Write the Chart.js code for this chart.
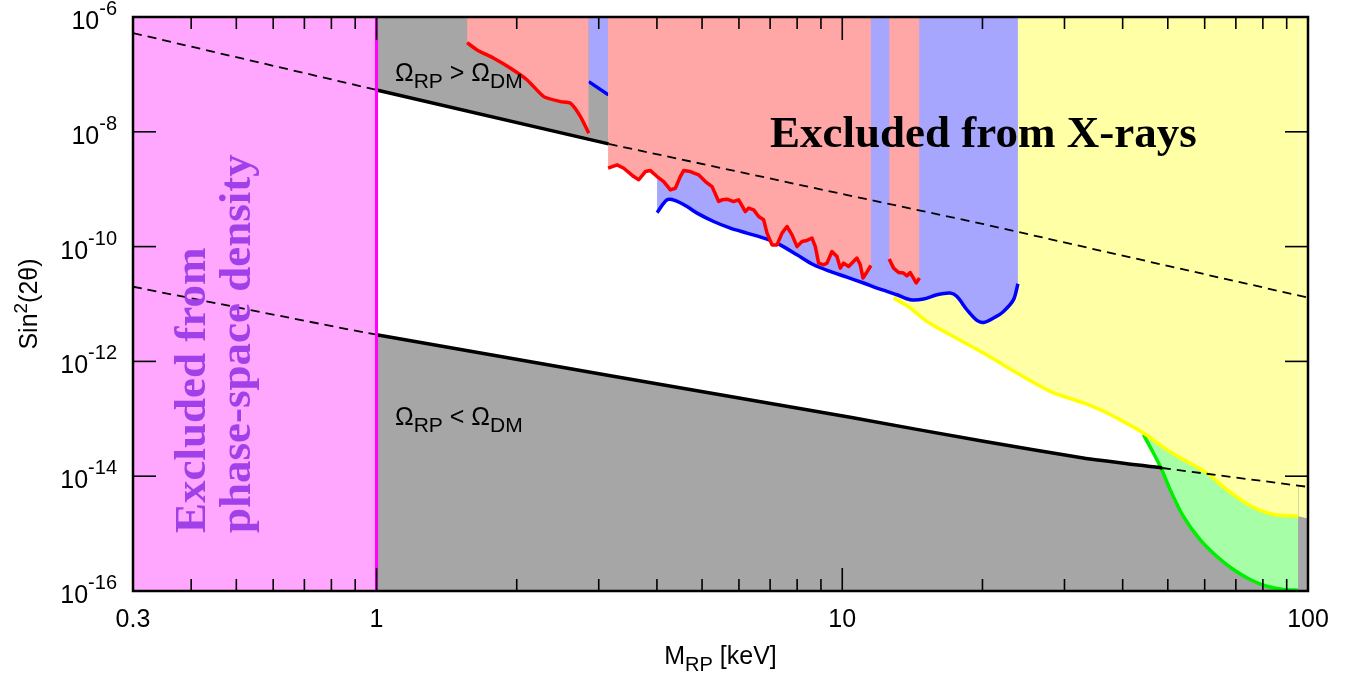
<!DOCTYPE html>
<html>
<head>
<meta charset="utf-8">
<script src="https://cdn.jsdelivr.net/npm/chart.js@4.4.1/dist/chart.umd.min.js"></script>
<style>
  body { margin: 0; background: #fff; }
  canvas { display: block; }
</style>
</head>
<body>
<canvas id="chart" width="1367" height="677"></canvas>
<script>
// axes
const xMin = 0.3, xMax = 100;
const yMin = 1e-16, yMax = 1e-6;
const xTickLabels = [0.3, 1, 10, 100];
const xMajorTicks = [1, 10];
const xMinorTicks = [0.4, 0.5, 0.6, 0.7, 0.8, 0.9, 2, 3, 4, 5, 6, 7, 8, 9, 20, 30, 40, 50, 60, 70, 80, 90];
const yTickExps = [-6, -8, -10, -12, -14, -16];

// phase-space density bound (M < 1 keV excluded)
const phaseX = [0.3, 1];
const phaseY = [1e-6, 1e-6];
const phaseEdgeX = [1, 1];
const phaseEdgeY = [1e-6, 1e-16];

// Omega_RP = Omega_DM lines (upper and lower)
const upperX = [0.3, 1, 3.15, 10.2, 20, 100];
const upperY = [5.26e-7, 5.36e-8, 6.16e-9, 7.97e-10, 2.49e-10, 1.29e-11];
const upperSolid = [1, 3.15];
const lowerX = [0.3, 1, 10.4, 20.1, 32.9, 48.6, 100];
const lowerY = [2.0e-11, 2.92e-12, 1.06e-13, 4.05e-14, 2.08e-14, 1.39e-14, 6.52e-15];
const lowerSolid = [1, 48.6];

// X-ray bounds
const red1X = [1.565, 1.644, 1.785, 1.94, 2.106, 2.286, 2.482, 2.608, 2.741, 2.855];
const red1Y = [3.57e-7, 2.67e-7, 1.91e-7, 1.28e-7, 8.0e-8, 4.10e-8, 3.36e-8, 3.15e-8, 1.84e-8, 9.46e-9];

const blue1X = [2.855, 3.147];
const blue1Y = [7.48e-8, 4.39e-8];

const red2X = [3.142, 3.286, 3.395, 3.566, 3.656, 3.778, 3.873, 4.003, 4.136, 4.275,
  4.382, 4.49, 4.564, 4.717, 4.915, 5.082, 5.253, 5.428, 5.519, 5.657,
  5.845, 5.992, 6.193, 6.295, 6.453, 6.614, 6.779, 6.894, 7.066, 7.243,
  7.424, 7.609, 7.8, 7.995, 8.195, 8.4, 8.61, 8.753, 8.896, 9.119,
  9.273, 9.504, 9.741, 9.902, 10.07, 10.32, 10.57, 10.75, 10.93, 11.08,
  11.26, 11.52];
const red2Y = [2.32e-9, 2.65e-9, 2.32e-9, 1.66e-9, 1.46e-9, 2.03e-9, 2.11e-9, 1.66e-9, 1.36e-9, 9.74e-10,
  1.04e-9, 1.66e-9, 2.11e-9, 2.03e-9, 1.78e-9, 1.36e-9, 1.11e-9, 6.10e-10, 6.53e-10, 6.71e-10,
  6.10e-10, 6.53e-10, 4.08e-10, 4.68e-10, 4.37e-10, 3.34e-10, 2.93e-10, 1.72e-10, 1.07e-10, 1.07e-10,
  1.72e-10, 2.24e-10, 1.60e-10, 1.00e-10, 1.23e-10, 1.28e-10, 1.41e-10, 1.00e-10, 5.16e-11, 4.82e-11,
  5.16e-11, 8.22e-11, 6.72e-11, 4.22e-11, 5.16e-11, 4.50e-11, 5.50e-11, 6.31e-11, 4.82e-11, 2.83e-11,
  3.46e-11, 4.69e-11];

const red3X = [12.61, 12.89, 13.21, 13.54, 13.77, 13.99, 14.22, 14.41, 14.65];
const red3Y = [6.06e-11, 4.22e-11, 3.54e-11, 3.46e-11, 3.10e-11, 3.54e-11, 2.83e-11, 2.32e-11, 2.83e-11];

const blue2X = [4.003, 4.206, 4.382, 4.642, 4.878, 5.294, 5.751, 6.245, 6.894, 7.362,
  7.995, 8.678, 9.424, 10.23, 11.11, 12.06, 13.11, 13.99, 14.94, 15.97,
  17.05, 17.63, 18.52, 19.46, 20.1, 21.12, 22.19, 23.32, 23.83];
const blue2Y = [3.92e-10, 6.53e-10, 6.34e-10, 4.99e-10, 3.83e-10, 2.74e-10, 2.10e-10, 1.72e-10, 1.35e-10, 1.07e-10,
  7.20e-11, 4.82e-11, 3.69e-11, 2.94e-11, 2.32e-11, 1.82e-11, 1.45e-11, 1.19e-11, 1.22e-11, 1.45e-11,
  1.55e-11, 1.35e-11, 7.94e-12, 5.17e-12, 4.77e-12, 5.69e-12, 7.42e-12, 1.19e-11, 2.25e-11];

const yellowX = [12.89, 13.99, 15.2, 17.05, 20.1, 23.71, 27.95, 32.95, 35.78, 38.87,
  44.33, 49.76, 54.0, 60.61, 66.93, 75.08, 84.23, 95.32, 100];
const yellowY = [1.27e-11, 8.51e-12, 4.97e-12, 2.92e-12, 1.40e-12, 6.28e-13, 3.01e-13, 1.89e-13, 1.44e-13, 1.03e-13,
  5.67e-14, 2.90e-14, 1.95e-14, 1.14e-14, 5.85e-15, 3.08e-15, 2.15e-15, 2.00e-15, 1.83e-15];

const greenX = [44.33, 46.56, 48.54, 50.57, 54.0, 58.64, 63.68, 69.14, 75.08, 81.54, 88.51, 95.32];
const greenY = [5.30e-14, 2.54e-14, 1.30e-14, 5.85e-15, 2.00e-15, 7.87e-16, 4.03e-16, 2.37e-16, 1.59e-16, 1.21e-16, 1.06e-16, 1.03e-16];

const SANS = '"Liberation Sans", Arial, sans-serif';
const SERIF = '"Liberation Serif", "Times New Roman", serif';

const pts = (xs, ys) => xs.map((x, i) => ({x: x, y: ys[i]}));

const area = (xs, ys, fill, bg, extra) => Object.assign({
  data: pts(xs, ys),
  fill: fill,
  backgroundColor: bg,
  borderColor: 'transparent',
  borderWidth: 0,
  pointRadius: 0,
  tension: 0
}, extra || {});

const inRange = (xs, r) => (c) => xs[c.p0DataIndex] >= r[0] && xs[c.p1DataIndex] <= r[1];

const datasets = [
  area(phaseX, phaseY, 'start', '#ffa6ff', {order: 100}),
  area(upperX.slice(1, 3), upperY.slice(1, 3), 'end', '#a6a6a6', {order: 90}),
  area(lowerX.slice(1), lowerY.slice(1), 'start', '#a6a6a6', {order: 90, tension: 0.15}),
  area(greenX, greenY, 'end', '#a6ffa6', {order: 80, borderColor: '#00ee00', borderWidth: 3.5, tension: 0.3}),
  area(yellowX, yellowY, 'end', '#ffffa6', {order: 70, borderColor: '#ffff00', borderWidth: 3.5, tension: 0.3,
    segment: {borderColor: c => c.p1DataIndex === yellowX.length - 1 ? 'transparent' : '#ffff00'}}),
  area(blue1X, blue1Y, 'end', '#a6a6ff', {order: 60, borderColor: '#0000ff', borderWidth: 3.5}),
  area(blue2X, blue2Y, 'end', '#a6a6ff', {order: 60, borderColor: '#0000ff', borderWidth: 3.5, tension: 0.3}),
  area(red1X, red1Y, 'end', '#ffa6a6', {order: 50, borderColor: '#ff0000', borderWidth: 3.5, tension: 0.2}),
  area(red2X, red2Y, 'end', '#ffa6a6', {order: 50, borderColor: '#ff0000', borderWidth: 3.5}),
  area(red3X, red3Y, 'end', '#ffa6a6', {order: 50, borderColor: '#ff0000', borderWidth: 3.5}),
  area(upperX, upperY, false, 'transparent', {order: 20, borderColor: '#000', borderWidth: 2,
    segment: {
      borderWidth: c => inRange(upperX, upperSolid)(c) ? 3.5 : 1.8,
      borderDash: c => inRange(upperX, upperSolid)(c) ? [] : [9, 6]
    }}),
  area(lowerX, lowerY, false, 'transparent', {order: 20, borderColor: '#000', borderWidth: 2, tension: 0.15,
    segment: {
      borderWidth: c => inRange(lowerX, lowerSolid)(c) ? 3.5 : 1.8,
      borderDash: c => inRange(lowerX, lowerSolid)(c) ? [] : [9, 6]
    }}),
  area(phaseEdgeX, phaseEdgeY, false, 'transparent', {order: 10, borderColor: '#ff00ff', borderWidth: 3})
];

// draw text made of runs: [text, font, dy]
function drawRuns(ctx, runs, x, y, align) {
  let w = 0;
  runs.forEach(r => { ctx.font = r[1]; w += ctx.measureText(r[0]).width; });
  let cx = align === 'right' ? x - w : align === 'center' ? x - w / 2 : x;
  ctx.textAlign = 'left';
  ctx.textBaseline = 'alphabetic';
  runs.forEach(r => {
    ctx.font = r[1];
    ctx.fillText(r[0], cx, y + r[2]);
    cx += ctx.measureText(r[0]).width;
  });
}

const framePlugin = {
  id: 'frame',
  afterDatasetsDraw(chart) {
    const {ctx, chartArea: a, scales: {x, y}} = chart;
    const line = (x0, y0, x1, y1) => { ctx.beginPath(); ctx.moveTo(x0, y0); ctx.lineTo(x1, y1); ctx.stroke(); };
    ctx.save();
    ctx.strokeStyle = '#000';
    ctx.lineWidth = 1.6;
    xMajorTicks.forEach(v => {
      const p = x.getPixelForValue(v);
      line(p, a.bottom, p, a.bottom - 23);
      line(p, a.top, p, a.top + 23);
    });
    xMinorTicks.forEach(v => {
      const p = x.getPixelForValue(v);
      line(p, a.bottom, p, a.bottom - 12);
      line(p, a.top, p, a.top + 12);
    });
    yTickExps.forEach(e => {
      const p = y.getPixelForValue(Math.pow(10, e));
      line(a.left, p, a.left + 23, p);
      line(a.right, p, a.right - 23, p);
    });
    ctx.lineWidth = 2.5;
    ctx.strokeRect(a.left, a.top, a.right - a.left, a.bottom - a.top);
    ctx.restore();
  },
  afterDraw(chart) {
    const {ctx, chartArea: a, scales: {x, y}} = chart;
    ctx.save();
    ctx.fillStyle = '#000';
    // tick labels
    yTickExps.forEach(e => {
      const p = y.getPixelForValue(Math.pow(10, e));
      drawRuns(ctx, [['10', '25px ' + SANS, 12], [String(e), '20px ' + SANS, -2]], a.left - 16, p, 'right');
    });
    xTickLabels.forEach(v => {
      drawRuns(ctx, [[String(v), '25px ' + SANS, 0]], x.getPixelForValue(v), a.bottom + 36, 'center');
    });
    // axis titles
    drawRuns(ctx, [['M', '25px ' + SANS, 0], ['RP', '20px ' + SANS, 7], [' [keV]', '25px ' + SANS, 0]],
      (a.left + a.right) / 2, 664, 'center');
    ctx.save();
    ctx.translate(37, (a.top + a.bottom) / 2);
    ctx.rotate(-Math.PI / 2);
    drawRuns(ctx, [['Sin', '25px ' + SANS, 0], ['2', '19px ' + SANS, -10], ['(2\u03B8)', '25px ' + SANS, 0]], 0, 0, 'center');
    ctx.restore();
    // region annotations
    const om = [['\u03A9', '25px ' + SANS, 0], ['RP', '21px ' + SANS, 7]];
    const dm = [['\u03A9', '25px ' + SANS, 0], ['DM', '21px ' + SANS, 7]];
    drawRuns(ctx, om.concat([[' > ', '25px ' + SANS, 0]], dm), 395, 81, 'left');
    drawRuns(ctx, om.concat([[' < ', '25px ' + SANS, 0]], dm), 395, 425, 'left');
    ctx.font = 'bold 45px ' + SERIF;
    ctx.textAlign = 'left';
    ctx.fillText('Excluded from X-rays', 770, 147);
    ctx.fillStyle = '#a040e8';
    ctx.translate(205, 533);
    ctx.rotate(-Math.PI / 2);
    ctx.fillText('Excluded from', 0, 0);
    ctx.fillText('phase-space density', 0, 45);
    ctx.restore();
  }
};

new Chart(document.getElementById('chart'), {
  type: 'line',
  data: {datasets: datasets},
  options: {
    responsive: false,
    animation: false,
    devicePixelRatio: 1,
    layout: {padding: {left: 133, top: 17, right: 59, bottom: 86}},
    plugins: {legend: {display: false}, tooltip: {enabled: false}},
    elements: {line: {borderJoinStyle: 'round', borderCapStyle: 'butt'}},
    scales: {
      x: {type: 'logarithmic', min: xMin, max: xMax, display: false},
      y: {type: 'logarithmic', min: yMin, max: yMax, display: false}
    }
  },
  plugins: [framePlugin]
});
</script>
</body>
</html>
